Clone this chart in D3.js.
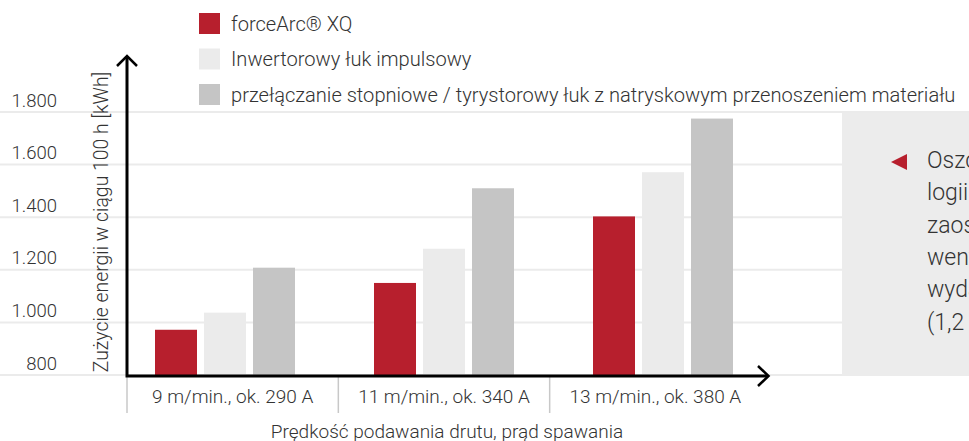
<!DOCTYPE html>
<html>
<head>
<meta charset="utf-8">
<script src="https://cdn.jsdelivr.net/npm/d3@7"></script>
<style>
  html, body { margin: 0; padding: 0; background: #fff; overflow: hidden; }
  svg { display: block; font-family: Roboto, "Noto Sans", sans-serif; }
  .tick-label, .cat-label, .axis-title { fill: #333; }
</style>
</head>
<body>
<div id="chart"></div>
<script>
// Energy consumption over 100 h [kWh]
const categories = ["9 m/min., ok. 290 A", "11 m/min., ok. 340 A", "13 m/min., ok. 380 A"];
const seriesNames = [
    "forceArc® XQ",
    "Inwertorowy łuk impulsowy",
    "przełączanie stopniowe / tyrystorowy łuk z natryskowym przenoszeniem materiału"
];
const forceArcValues = [972, 1150, 1403];
const inverterValues = [1037, 1280, 1571];
const stepSwitchValues = [1208, 1510, 1775];
const yTicks = [800, 1000, 1200, 1400, 1600, 1800];
const panelLines = [
    "Oszczędności dzięki techno-",
    "logii forceArc® XQ: do 370 kWh",
    "zaoszczędzonej energii na każde",
    "wentylowane stanowisko przy tej",
    "wydajności stapiania drutu",
    "(1,2 mm, 100 h spawania)"
];

const W = 969, H = 441;
const colors = ["#b71f2d", "#ebebeb", "#c5c5c5"];
const seriesValues = [forceArcValues, inverterValues, stepSwitchValues];

const svg = d3.select("#chart").append("svg")
    .attr("width", W)
    .attr("height", H);

// scales
const y = d3.scaleLinear().domain([800, 1800]).range([375, 112]);
const xGroup = d3.scaleBand().domain(categories).range([115.5, 772.5]);
const xLabel = d3.scaleBand().domain(categories).range([127, 761]);
const xInner = d3.scaleBand().domain(seriesNames).range([0, 140]).paddingInner(7 / 49);

const fmt = d3.formatLocale({ decimal: ",", thousands: ".", grouping: [3], currency: ["", " zł"] }).format(",d");

// grid lines
svg.append("g")
    .selectAll("line")
    .data(yTicks)
    .join("line")
    .attr("x1", 0)
    .attr("x2", W)
    .attr("y1", d => y(d))
    .attr("y2", d => y(d))
    .attr("stroke", "#ebebeb")
    .attr("stroke-width", 2);

// right info panel (text runs past the page edge, as in the original)
svg.append("rect")
    .attr("x", 842)
    .attr("y", 113)
    .attr("width", W - 842)
    .attr("height", 376 - 113)
    .attr("fill", "#ececec");

svg.append("path")
    .attr("d", "M891,162L907,154L907,170Z")
    .attr("fill", "#b71f2d");

svg.append("text")
    .attr("class", "axis-title")
    .attr("x", 927)
    .attr("y", 168)
    .style("font-size", "23px")
    .style("font-weight", 300)
    .selectAll("tspan")
    .data(panelLines)
    .join("tspan")
    .attr("x", 927)
    .attr("dy", (d, i) => i === 0 ? 0 : 32.3)
    .text(d => d);

// bars
const groups = svg.append("g")
    .selectAll("g")
    .data(categories)
    .join("g")
    .attr("transform", d => `translate(${xGroup(d) + xGroup.bandwidth() / 2 - 70},0)`);

groups.selectAll("rect")
    .data((c, ci) => seriesNames.map((s, si) => ({ s, si, v: seriesValues[si][ci] })))
    .join("rect")
    .attr("x", d => xInner(d.s))
    .attr("width", xInner.bandwidth())
    .attr("y", d => y(d.v))
    .attr("height", d => y(800) - y(d.v) + 1)
    .attr("fill", d => colors[d.si]);

// y tick labels
const yAxis = svg.append("g")
    .attr("transform", "translate(57,0)")
    .call(d3.axisLeft(y).tickValues(yTicks).tickFormat(fmt).tickSize(0).tickPadding(0));
yAxis.select(".domain").remove();
yAxis.selectAll("text")
    .attr("class", "tick-label")
    .attr("dy", -6)
    .style("font-size", "18.5px")
    .style("font-weight", 300)
    .style("font-family", "Roboto, sans-serif");

// category separators
svg.append("g")
    .selectAll("line")
    .data(categories)
    .join("line")
    .attr("x1", d => xLabel(d))
    .attr("x2", d => xLabel(d))
    .attr("y1", 376)
    .attr("y2", 413)
    .attr("stroke", "#c8c8c8")
    .attr("stroke-width", 1.5);

// category labels
const xAxis = svg.append("g")
    .attr("transform", "translate(0,376)")
    .call(d3.axisBottom(xLabel).tickSize(0).tickPadding(0));
xAxis.select(".domain").remove();
xAxis.selectAll("text")
    .attr("class", "cat-label")
    .attr("dy", 0)
    .attr("y", 27)
    .style("font-size", "19px")
    .style("font-weight", 300)
    .style("font-family", "Roboto, sans-serif");

// axis lines with arrows
const axisG = svg.append("g")
    .attr("fill", "none")
    .attr("stroke", "#000");
axisG.append("path")
    .attr("d", `M127,56V376H768`)
    .attr("stroke-width", 3);
axisG.append("path")
    .attr("d", "M117,66L127,56L137,66")
    .attr("stroke-width", 2.5);
axisG.append("path")
    .attr("d", "M758,366L768.5,376L758,386")
    .attr("stroke-width", 2.5);

// axis titles
svg.append("text")
    .attr("class", "axis-title")
    .attr("transform", "translate(108,222) rotate(-90)")
    .attr("text-anchor", "middle")
    .style("font-size", "19.4px")
    .style("font-weight", 300)
    .text("Zużycie energii w ciągu 100 h [kWh]");

svg.append("text")
    .attr("class", "axis-title")
    .attr("x", 447)
    .attr("y", 438)
    .attr("text-anchor", "middle")
    .style("font-size", "19px")
    .style("font-weight", 300)
    .text("Prędkość podawania drutu, prąd spawania");

// legend
const legend = svg.append("g")
    .selectAll("g")
    .data(seriesNames)
    .join("g")
    .attr("transform", (d, i) => `translate(199,${13 + i * 35.5})`);

legend.append("rect")
    .attr("width", 21)
    .attr("height", 21)
    .attr("fill", (d, i) => colors[i]);

legend.append("text")
    .attr("class", "axis-title")
    .attr("x", 32)
    .attr("y", 17.5)
    .style("font-size", "20.1px")
    .style("font-weight", 300)
    .text(d => d);
</script>
</body>
</html>
